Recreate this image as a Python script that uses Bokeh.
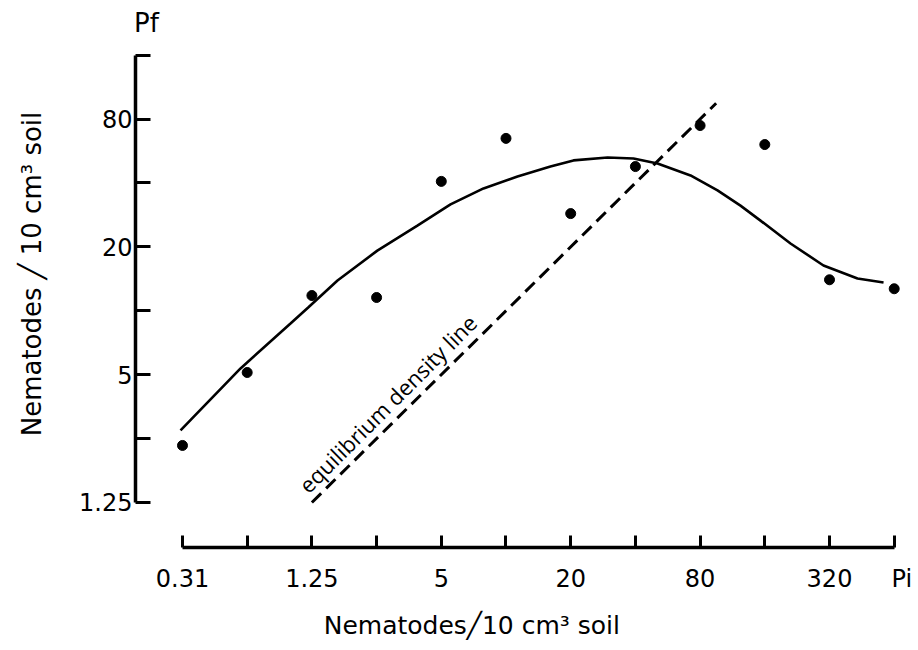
import math
from bokeh.plotting import figure
from bokeh.models import FixedTicker, Label, Range1d
from bokeh.embed import file_html
from bokeh.resources import INLINE

# ---- data ----
pi_ticks = [0.3125, 0.625, 1.25, 2.5, 5, 10, 20, 40, 80, 160, 320, 640]
pi_labels = ["0.31", "", "1.25", "", "5", "", "20", "", "80", "", "320", "\u00a0\u00a0Pi"]
pf_ticks = [1.25, 2.5, 5, 10, 20, 40, 80, 160]
pf_labels = ["1.25", "", "5", "", "20", "", "80", ""]

obs_pi = [0.3125, 0.625, 1.25, 2.5, 5, 10, 20, 40, 80, 160, 320, 640]
obs_pf = [2.32, 5.12, 11.8, 11.55, 40.7, 64.9, 28.7, 47.8, 74.6, 60.7, 14.0, 12.7]

curve_pi = [0.306, 0.582, 0.994, 1.205, 1.645, 2.52, 3.87, 5.52, 7.86, 11.31,
            16.1, 20.6, 29.7, 39.2, 50.7, 72.2, 96.4, 123.3, 152.8, 210.7,
            300, 432, 571]
curve_pf = [2.73, 5.35, 8.71, 10.4, 13.9, 19.2, 25.2, 31.7, 37.7, 42.9,
            47.8, 51.1, 52.7, 52.2, 49.4, 43.4, 36.9, 31.3, 26.6, 20.75,
            16.35, 14.2, 13.6]

equil_pi = [1.25, 95]
equil_pf = [1.25, 95]

p = figure(width=918, height=650, x_axis_type="log", y_axis_type="log",
           x_range=Range1d(0.1889, 707), y_range=Range1d(0.767, 289.6),
           output_backend="svg", toolbar_location=None,
           min_border_left=135, min_border_right=15, min_border_top=0,
           min_border_bottom=103)
p.outline_line_color = None
p.grid.visible = False
p.background_fill_color = "white"
p.border_fill_color = "white"

p.line(curve_pi, curve_pf, line_color="black", line_width=2.6)
p.line(equil_pi, equil_pf, line_color="black", line_width=3, line_dash="13 7")
p.scatter(obs_pi, obs_pf, size=10, color="black")

# x axis
xa = p.xaxis[0]
xa.ticker = FixedTicker(ticks=pi_ticks)
xa.major_label_overrides = {t: l for t, l in zip(pi_ticks, pi_labels)}
xa.bounds = (pi_ticks[0], pi_ticks[-1])
xa.minor_tick_line_color = None
xa.axis_line_width = 3.5
xa.major_tick_line_width = 3
xa.major_tick_in = 12
xa.major_tick_out = 0
xa.major_label_standoff = 17
xa.major_label_text_font = "DejaVu Sans"
xa.major_label_text_font_size = "24px"
xa.major_label_text_color = "black"
xa.axis_label = "Nematodes\u257110 cm\u00b3 soil" + "\u00a0" * 12
xa.axis_label_text_font = "DejaVu Sans"
xa.axis_label_text_font_size = "25px"
xa.axis_label_text_font_style = "normal"
xa.axis_label_text_color = "black"
xa.axis_label_standoff = 15

# y axis
ya = p.yaxis[0]
ya.ticker = FixedTicker(ticks=pf_ticks)
ya.major_label_overrides = {t: l for t, l in zip(pf_ticks, pf_labels)}
ya.bounds = (pf_ticks[0], pf_ticks[-1])
ya.minor_tick_line_color = None
ya.axis_line_width = 3.5
ya.major_tick_line_width = 3
ya.major_tick_in = 15
ya.major_tick_out = 0
ya.major_label_standoff = 3
ya.major_label_text_font = "DejaVu Sans"
ya.major_label_text_font_size = "24px"
ya.major_label_text_color = "black"
ya.axis_label = "Nematodes \u2571 10 cm\u00b3 soil"
ya.axis_label_text_font = "DejaVu Sans"
ya.axis_label_text_font_size = "26px"
ya.axis_label_text_font_style = "normal"
ya.axis_label_text_color = "black"
ya.axis_label_standoff = 29

p.add_layout(Label(x=0.2125, y=265.6, text="Pf", text_align="center",
                   text_baseline="top", text_font="DejaVu Sans",
                   text_font_size="26px", text_color="black"))
p.add_layout(Label(x=1.13, y=1.455, text="equilibrium density line",
                   angle=math.pi / 4, text_align="left",
                   text_baseline="alphabetic", text_font="Open Sans",
                   text_font_size="22px", text_color="black"))

open("out.html", "w").write(file_html(p, INLINE))
